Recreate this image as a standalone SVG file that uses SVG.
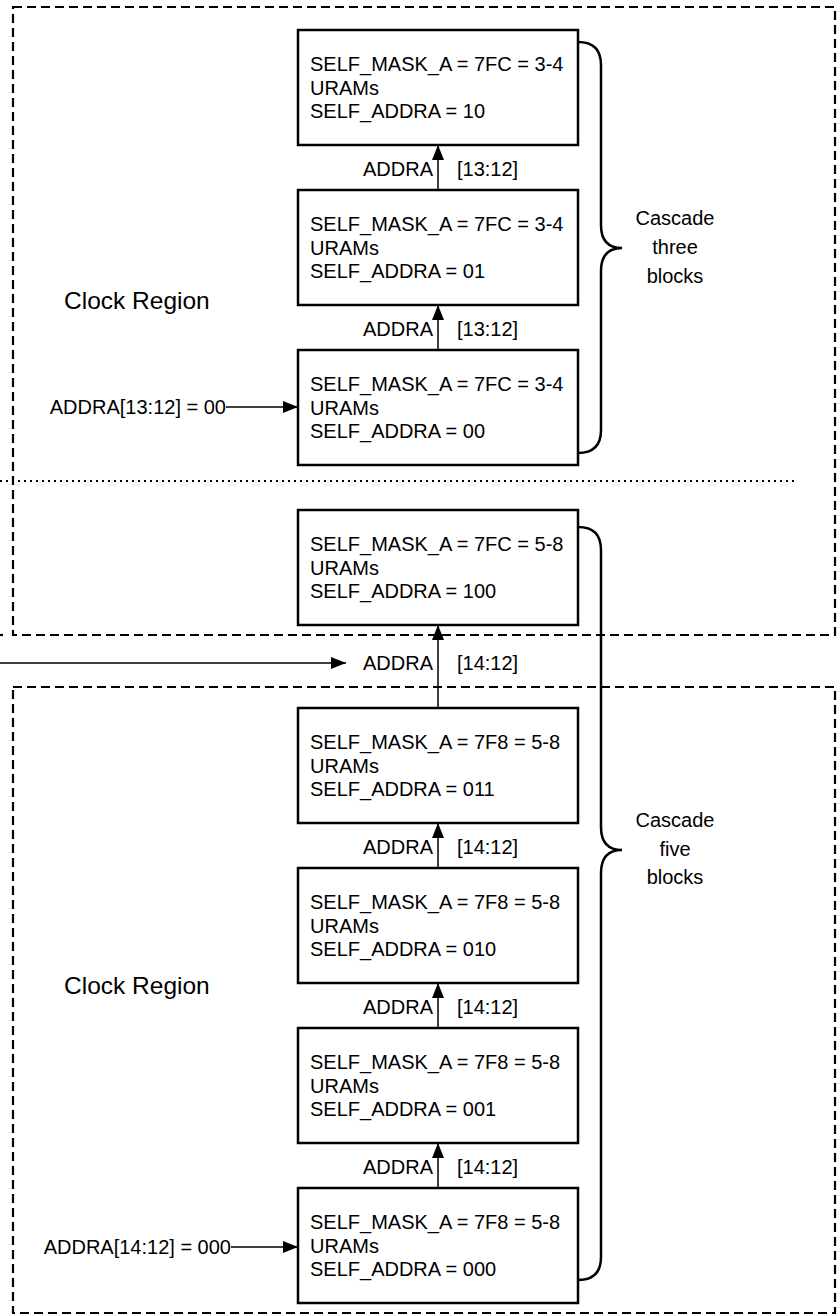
<svg xmlns="http://www.w3.org/2000/svg" width="837" height="1315" viewBox="0 0 837 1315">
<style>
.region{fill:none;stroke:#000;stroke-width:2.2;stroke-dasharray:9,5}
.dots{fill:none;stroke:#000;stroke-width:2.2;stroke-dasharray:2,4}
.box{fill:#fff;stroke:#000;stroke-width:2.5}
.t{font-family:"Liberation Sans",Arial,sans-serif;font-size:20px;fill:#000}
.big{font-family:"Liberation Sans",Arial,sans-serif;font-size:24.5px;fill:#000}
.mid{text-anchor:middle}
.end{text-anchor:end}
.wire{fill:none;stroke:#000;stroke-width:1.5}
.brace{fill:none;stroke:#000;stroke-width:2.5}
</style>
<defs>
<marker id="arr" markerUnits="userSpaceOnUse" markerWidth="16" markerHeight="12" refX="15" refY="6" orient="auto">
<path d="M0,0 L15,6 L0,12 z" fill="#000"/>
</marker>
</defs>

<g id="regions">
<rect class="region" x="13" y="7" width="822" height="628"/>
<rect class="region" x="13" y="687" width="822" height="626"/>
<line class="region" x1="0" y1="635" x2="3" y2="635" style="stroke-dasharray:none"/>
<line class="dots" x1="0" y1="481" x2="796" y2="481"/>
<text class="big" x="64" y="309">Clock Region</text>
<text class="big" x="64" y="994">Clock Region</text>
</g>

<g id="connectors">
<line class="wire" x1="438" y1="190" x2="438" y2="145" marker-end="url(#arr)"/>
<line class="wire" x1="438" y1="350" x2="438" y2="305" marker-end="url(#arr)"/>
<line class="wire" x1="438" y1="708" x2="438" y2="625" marker-end="url(#arr)"/>
<line class="wire" x1="438" y1="868" x2="438" y2="823" marker-end="url(#arr)"/>
<line class="wire" x1="438" y1="1028" x2="438" y2="983" marker-end="url(#arr)"/>
<line class="wire" x1="438" y1="1188" x2="438" y2="1143" marker-end="url(#arr)"/>
<line class="wire" x1="0" y1="663" x2="346" y2="663" marker-end="url(#arr)"/>
<line class="wire" x1="226" y1="407" x2="298" y2="407" marker-end="url(#arr)"/>
<line class="wire" x1="231" y1="1247" x2="298" y2="1247" marker-end="url(#arr)"/>
<text class="t end" x="433" y="176">ADDRA</text><text class="t" x="457" y="176">[13:12]</text>
<text class="t end" x="433" y="336">ADDRA</text><text class="t" x="457" y="336">[13:12]</text>
<text class="t end" x="433" y="670">ADDRA</text><text class="t" x="457" y="670">[14:12]</text>
<text class="t end" x="433" y="854">ADDRA</text><text class="t" x="457" y="854">[14:12]</text>
<text class="t end" x="433" y="1014">ADDRA</text><text class="t" x="457" y="1014">[14:12]</text>
<text class="t end" x="433" y="1174">ADDRA</text><text class="t" x="457" y="1174">[14:12]</text>
<text class="t end" x="226" y="414">ADDRA[13:12] = 00</text>
<text class="t end" x="231" y="1254">ADDRA[14:12] = 000</text>
</g>

<g id="brace-three">
<path class="brace" d="M578,42 Q601,42 601,65 L601,225 Q601,248 622,248 Q601,248 601,271 L601,430 Q601,453 578,453"/>
<text class="t mid" x="675" y="225">Cascade</text>
<text class="t mid" x="675" y="254">three</text>
<text class="t mid" x="675" y="283">blocks</text>
</g>

<g id="brace-five">
<path class="brace" d="M578,527 Q601,527 601,550 L601,827 Q601,850 622,850 Q601,850 601,873 L601,1257 Q601,1280 578,1280"/>
<text class="t mid" x="675" y="827">Cascade</text>
<text class="t mid" x="675" y="856">five</text>
<text class="t mid" x="675" y="884">blocks</text>
</g>

<g id="uram-10">
<rect class="box" x="298" y="30" width="280" height="115"/>
<text class="t" x="310" y="71">SELF_MASK_A = 7FC = 3-4</text>
<text class="t" x="310" y="94.5">URAMs</text>
<text class="t" x="310" y="118">SELF_ADDRA = 10</text>
</g>
<g id="uram-01">
<rect class="box" x="298" y="190" width="280" height="115"/>
<text class="t" x="310" y="231">SELF_MASK_A = 7FC = 3-4</text>
<text class="t" x="310" y="254.5">URAMs</text>
<text class="t" x="310" y="278">SELF_ADDRA = 01</text>
</g>
<g id="uram-00">
<rect class="box" x="298" y="350" width="280" height="115"/>
<text class="t" x="310" y="391">SELF_MASK_A = 7FC = 3-4</text>
<text class="t" x="310" y="414.5">URAMs</text>
<text class="t" x="310" y="438">SELF_ADDRA = 00</text>
</g>
<g id="uram-100">
<rect class="box" x="298" y="510" width="280" height="115"/>
<text class="t" x="310" y="551">SELF_MASK_A = 7FC = 5-8</text>
<text class="t" x="310" y="574.5">URAMs</text>
<text class="t" x="310" y="598">SELF_ADDRA = 100</text>
</g>
<g id="uram-011">
<rect class="box" x="298" y="708" width="280" height="115"/>
<text class="t" x="310" y="749">SELF_MASK_A = 7F8 = 5-8</text>
<text class="t" x="310" y="772.5">URAMs</text>
<text class="t" x="310" y="796">SELF_ADDRA = 011</text>
</g>
<g id="uram-010">
<rect class="box" x="298" y="868" width="280" height="115"/>
<text class="t" x="310" y="909">SELF_MASK_A = 7F8 = 5-8</text>
<text class="t" x="310" y="932.5">URAMs</text>
<text class="t" x="310" y="956">SELF_ADDRA = 010</text>
</g>
<g id="uram-001">
<rect class="box" x="298" y="1028" width="280" height="115"/>
<text class="t" x="310" y="1069">SELF_MASK_A = 7F8 = 5-8</text>
<text class="t" x="310" y="1092.5">URAMs</text>
<text class="t" x="310" y="1116">SELF_ADDRA = 001</text>
</g>
<g id="uram-000">
<rect class="box" x="298" y="1188" width="280" height="115"/>
<text class="t" x="310" y="1229">SELF_MASK_A = 7F8 = 5-8</text>
<text class="t" x="310" y="1252.5">URAMs</text>
<text class="t" x="310" y="1276">SELF_ADDRA = 000</text>
</g>
</svg>
